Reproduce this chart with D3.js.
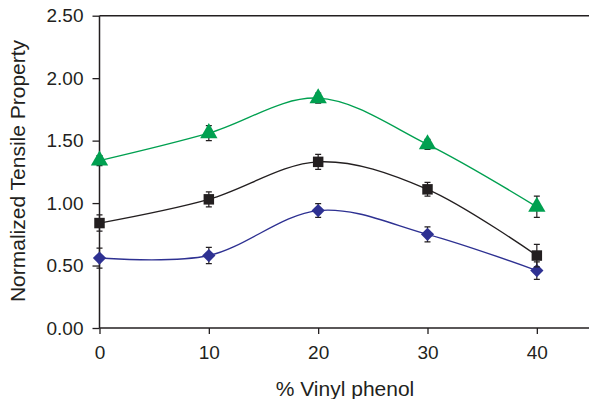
<!DOCTYPE html>
<html><head><meta charset="utf-8">
<script src="https://cdn.jsdelivr.net/npm/d3@7"></script>
<style>body{margin:0;background:#fff}svg{display:block}text{font-family:"Liberation Sans",Arial,sans-serif;fill:#231f20}</style>
</head><body><svg id="c" width="589" height="399"></svg>
<script>
const vinyl = [0, 10, 20, 30, 40];
const greenVals = [1.34, 1.56, 1.84, 1.47, 0.97];
const greenErr  = [0.04, 0.06, 0.04, 0.04, 0.085];
const blackVals = [0.84, 1.03, 1.33, 1.11, 0.58];
const blackErr  = [0.065, 0.06, 0.06, 0.055, 0.09];
const blueVals  = [0.56, 0.58, 0.94, 0.75, 0.46];
const blueErr   = [0.08, 0.065, 0.055, 0.06, 0.07];
const yTicks = [0, 0.5, 1.0, 1.5, 2.0, 2.5];
const xTicks = [0, 10, 20, 30, 40];

const svg = d3.select("#c");
const L = 99.5, R = 591.5, T = 15.7, B = 328;
const x = d3.scaleLinear().domain([0, 45]).range([L, R]);
const y = d3.scaleLinear().domain([0, 2.5]).range([B, T]);

svg.append("line").attr("x1", L).attr("x2", 589).attr("y1", T).attr("y2", T)
  .attr("stroke", "#231f20").attr("stroke-width", 1.5);

const ya = svg.append("g").attr("transform", `translate(${L},0)`)
  .call(d3.axisLeft(y).tickValues(yTicks).tickFormat(d3.format(".2f")).tickSize(7).tickPadding(9));
const xa = svg.append("g").attr("transform", `translate(0,${B})`)
  .call(d3.axisBottom(x).tickValues(xTicks).tickSize(6).tickPadding(12));
[ya, xa].forEach(g => {
  g.select(".domain").attr("stroke", "#231f20").attr("stroke-width", 1.5);
  g.selectAll(".tick line").attr("stroke", "#231f20").attr("stroke-width", 1.3);
  g.selectAll("text").attr("font-size", 19).attr("font-family", "Liberation Sans, Arial, sans-serif").attr("fill", "#231f20");
});
xa.select(".domain").attr("d", `M${L},0H589`);
ya.select(".domain").attr("d", `M0,${B}V${T}`);

svg.append("text").attr("x", 345).attr("y", 396).attr("text-anchor", "middle")
  .attr("font-size", 21).text("% Vinyl phenol");
svg.append("text").attr("transform", "translate(25,171) rotate(-90)").attr("text-anchor", "middle")
  .attr("font-size", 21).text("Normalized Tensile Property");

const series = [
  {vals: blueVals, err: blueErr, color: "#2e3192", shape: d3.symbolSquare, size: 88, rot: 45},
  {vals: blackVals, err: blackErr, color: "#231f20", shape: d3.symbolSquare, size: 110, rot: 0},
  {vals: greenVals, err: greenErr, color: "#00a050", shape: d3.symbolTriangle, size: 130, rot: 0}
];
const line = d3.line().x(d => x(d[0])).y(d => y(d[1])).curve(d3.curveCatmullRom.alpha(0));
series.forEach(s => {
  const pts = vinyl.map((v, i) => [v, s.vals[i], s.err[i]]);
  svg.append("path").attr("d", line(pts)).attr("fill", "none").attr("stroke", s.color).attr("stroke-width", 1.4);
  const eb = svg.append("g");
  pts.forEach(p => {
    const cx = x(p[0]), y1 = y(p[1] + p[2]), y2 = y(p[1] - p[2]);
    eb.append("path").attr("d", `M${cx},${y1}V${y2}M${cx-3},${y1}H${cx+3}M${cx-3},${y2}H${cx+3}`)
      .attr("stroke", "#231f20").attr("stroke-width", 1.2).attr("fill", "none");
  });
  svg.append("g").selectAll("path.m").data(pts).join("path")
    .attr("transform", d => `translate(${x(d[0])},${y(d[1])}) rotate(${s.rot})`)
    .attr("d", d3.symbol().type(s.shape).size(s.size))
    .attr("fill", s.color);
});
</script></body></html>
